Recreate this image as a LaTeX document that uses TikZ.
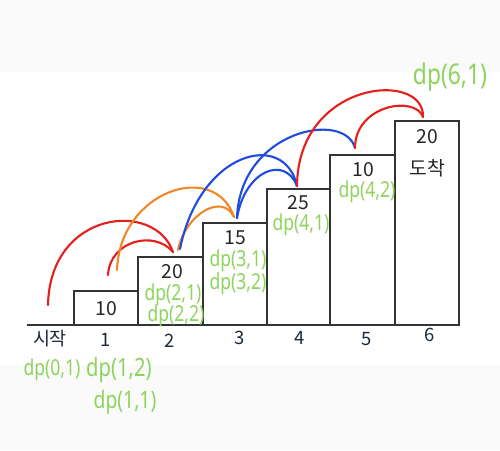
\documentclass[tikz,border=0pt]{standalone}
\usepackage{fontspec}
\usepackage{graphicx}
\setmainfont{Noto Sans}
\newfontfamily\krfont{Noto Sans CJK KR}
\definecolor{penred}{HTML}{E3201B}
\definecolor{penorange}{HTML}{F0882A}
\definecolor{penblue}{HTML}{1F4BE0}
\definecolor{pengreen}{HTML}{8DD45C}
\definecolor{boxline}{HTML}{333333}
\definecolor{stepink}{HTML}{1C2B3A}
\definecolor{paper}{HTML}{FAFAFA}
\newcommand{\memotext}[1]{\scalebox{1}[1.25]{#1}}
\tikzset{
  stair/.style={draw=boxline,line width=1pt,fill=white},
  cost/.style={text=black!85,font=\krfont\fontsize{11}{13}\selectfont,inner sep=0pt},
  stepno/.style={text=stepink,font=\krfont\fontsize{10.5}{12}\selectfont,inner sep=0pt},
  memo/.style={text=pengreen,font=\fontsize{10}{12}\selectfont,inner sep=0pt},
  hop/.style={line width=1.2pt,line cap=round}
}
\begin{document}
\begin{tikzpicture}[x=0.02cm,y=-0.02cm]
  \fill[paper] (0,0) rectangle (500,450);
  \fill[white] (0,72) rectangle (500,365);
  \useasboundingbox (0,0) rectangle (500,450);
  \draw[boxline,line width=1pt] (27,325)--(460,325);
  \filldraw[stair] (74,291) rectangle (138,325);
  \filldraw[stair] (138,257) rectangle (203,325);
  \filldraw[stair] (203,223) rectangle (267,325);
  \filldraw[stair] (267,189) rectangle (330,325);
  \filldraw[stair] (330,155) rectangle (395,325);
  \filldraw[stair] (395,121) rectangle (459,325);
  \node[cost] (c1) at (106,309) {10};
  \node[cost] (c2) at (172,272) {20};
  \node[cost] (c3) at (235,238) {15};
  \node[cost] (c4) at (298,203) {25};
  \node[cost] (c5) at (363,170) {10};
  \node[cost] (c6) at (427,137) {20};
  \node[cost] (goal) at (427,168) {도착};
  \node[stepno] (start) at (50,339) {시작};
  \node[stepno] (n1) at (106,340) {1};
  \node[stepno] (n2) at (170,341) {2};
  \node[stepno] (n3) at (240,338) {3};
  \node[stepno] (n4) at (300,338) {4};
  \node[stepno] (n5) at (367,339) {5};
  \node[stepno] (n6) at (430,335) {6};
  \node[memo] (dp01) at (52,370) {\memotext{dp(0,1)}};
  \node[memo,font=\fontsize{11.5}{13}\selectfont] (dp12) at (119,370) {\memotext{dp(1,2)}};
  \node[memo,font=\fontsize{11}{13}\selectfont] (dp11) at (125,402) {\memotext{dp(1,1)}};
  \node[memo] (dp21) at (173,295) {\memotext{dp(2,1)}};
  \node[memo] (dp22) at (176,316) {\memotext{dp(2,2)}};
  \node[memo] (dp31) at (238,261) {\memotext{dp(3,1)}};
  \node[memo] (dp32) at (238,284) {\memotext{dp(3,2)}};
  \node[memo] (dp41) at (301,225) {\memotext{dp(4,1)}};
  \node[memo] (dp42) at (367,192) {\memotext{dp(4,2)}};
  \node[memo,font=\fontsize{13}{15}\selectfont] (dp61) at (450,77) {\memotext{dp(6,1)}};
  \coordinate (t0) at (48,305);
  \coordinate (t1a) at (108,275);
  \coordinate (t1b) at (117,270);
  \coordinate (t2a) at (173,252);
  \coordinate (t2b) at (178,250);
  \coordinate (t2c) at (180,249);
  \coordinate (t3a) at (234,217);
  \coordinate (t3b) at (237,218);
  \coordinate (t4) at (297,186);
  \coordinate (t5) at (355,148);
  \coordinate (t6) at (423,117);
  \draw[hop,penred] (t0) .. controls (50,210) and (155,200) .. (t2a);
  \draw[hop,penred] (t1a) .. controls (110,240) and (155,230) .. (t2a);
  \draw[hop,penorange] (t1b) .. controls (120,190) and (215,160) .. (t3a);
  \draw[hop,penorange] (t2b) .. controls (185,215) and (222,192) .. (t3a);
  \draw[hop,penblue] (t2c) .. controls (200,150) and (285,130) .. (t4);
  \draw[hop,penblue] (t3b) .. controls (245,170) and (285,155) .. (t4);
  \draw[hop,penblue] (t3b) .. controls (240,130) and (345,110) .. (t5);
  \draw[hop,penred] (t4) .. controls (298,80) and (425,70) .. (t6);
  \draw[hop,penred] (t5) .. controls (355,105) and (415,95) .. (t6);
\end{tikzpicture}
\end{document}
